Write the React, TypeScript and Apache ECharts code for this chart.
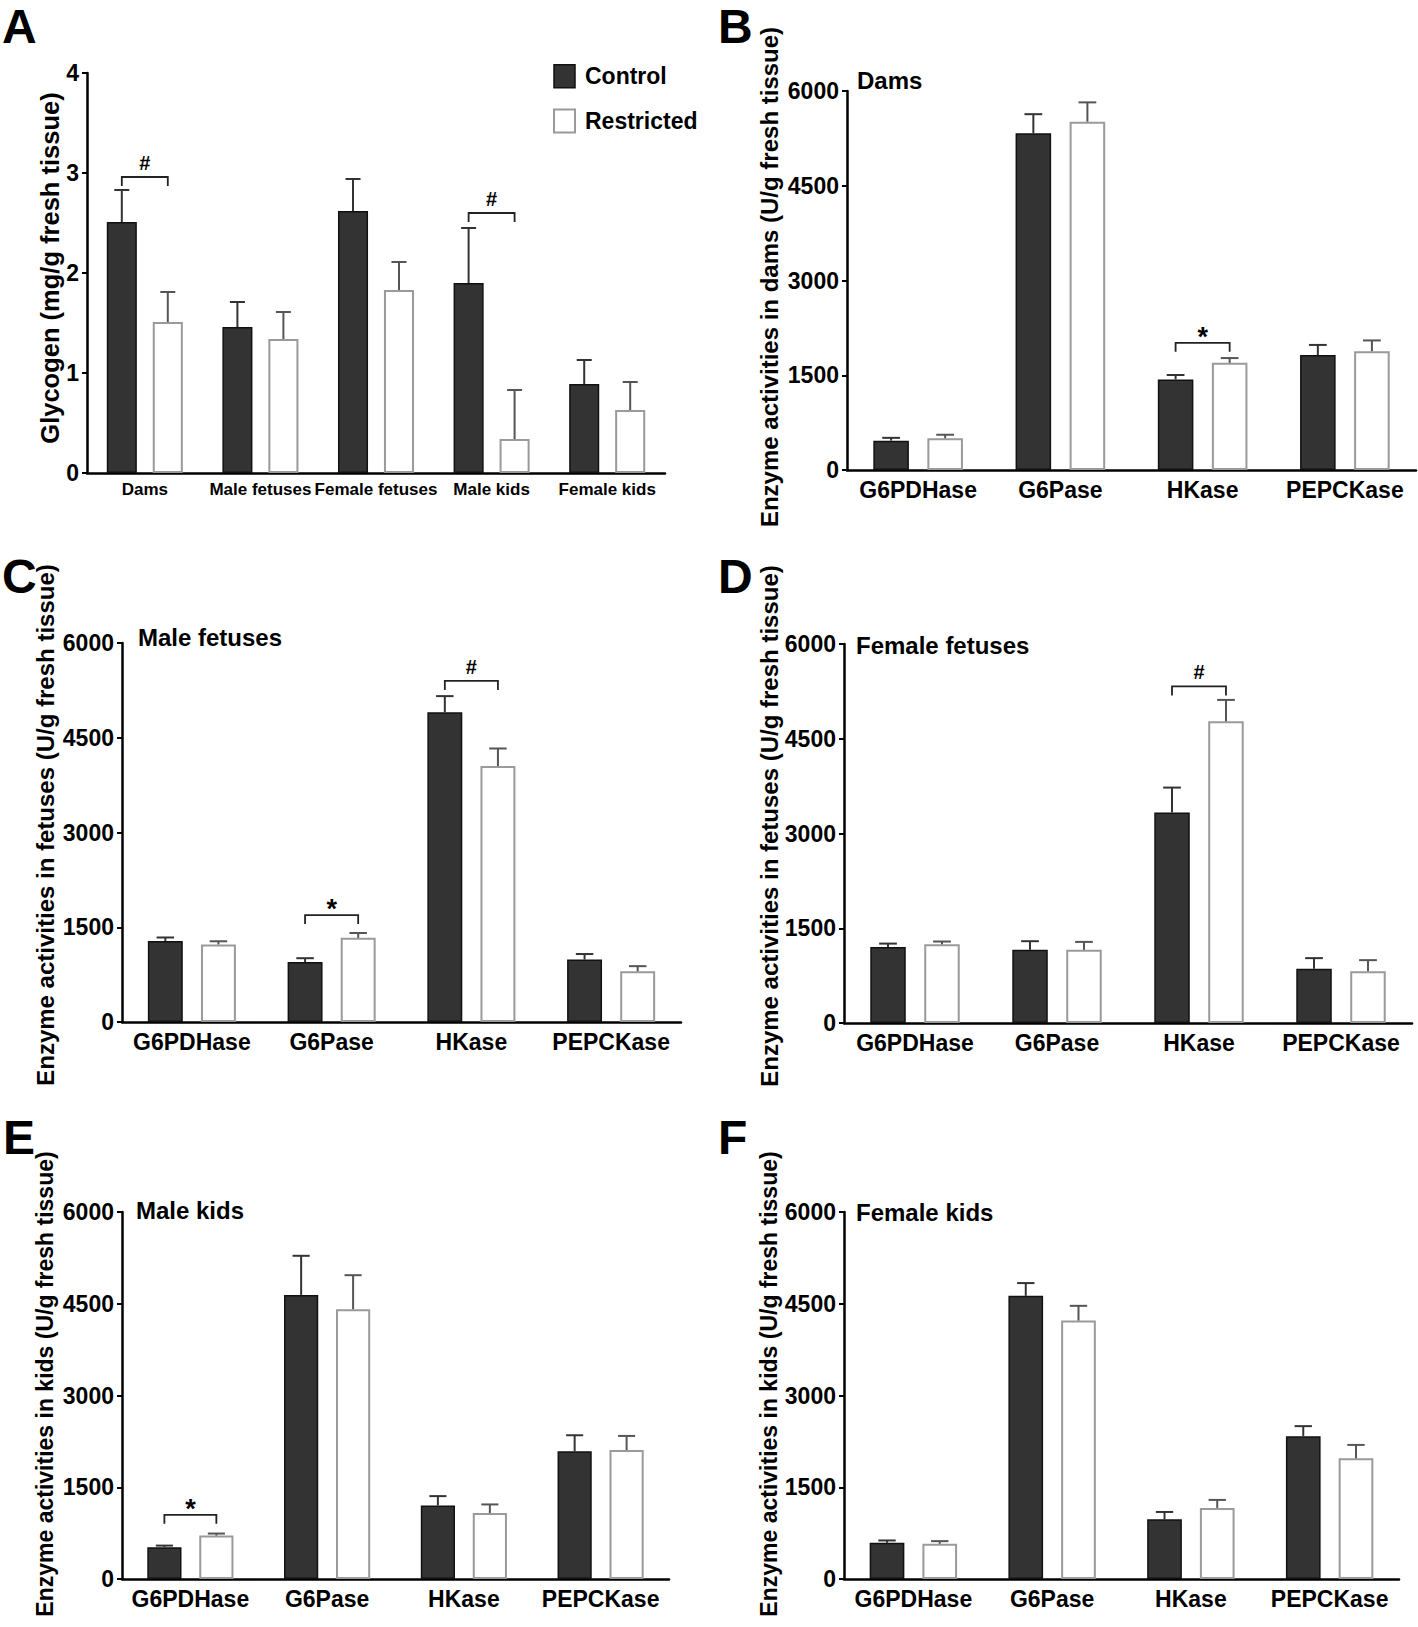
import React, { useEffect, useRef } from "react";
import * as echarts from "echarts";

const FONT = '"Liberation Sans", Arial, Helvetica, sans-serif';

// ---------- data ----------
const glycogenCategories = ["Dams", "Male fetuses", "Female fetuses", "Male kids", "Female kids"];
const glycogenControl = [2.51, 1.46, 2.62, 1.9, 0.89];
const glycogenControlSem = [0.32, 0.25, 0.32, 0.55, 0.24];
const glycogenRestricted = [1.51, 1.34, 1.83, 0.34, 0.63];
const glycogenRestrictedSem = [0.3, 0.27, 0.28, 0.49, 0.28];
const glycogenTicks = [0, 1, 2, 3, 4];

const enzymeCategories = ["G6PDHase", "G6Pase", "HKase", "PEPCKase"];
const enzymeTicks = [0, 1500, 3000, 4500, 6000];

const damsControl = [465, 5333, 1433, 1821];
const damsControlSem = [44, 300, 71, 159];
const damsRestricted = [503, 5513, 1696, 1881];
const damsRestrictedSem = [55, 307, 76, 170];

const maleFetusControl = [1283, 950, 4903, 988];
const maleFetusControlSem = [55, 60, 256, 88];
const maleFetusRestricted = [1228, 1332, 4051, 803];
const maleFetusRestrictedSem = [50, 77, 279, 81];

const femaleFetusControl = [1202, 1158, 3333, 858];
const femaleFetusControlSem = [55, 137, 394, 169];
const femaleFetusRestricted = [1246, 1158, 4776, 820];
const femaleFetusRestrictedSem = [44, 126, 339, 175];

const maleKidControl = [519, 4645, 1202, 2087];
const maleKidControlSem = [27, 639, 153, 263];
const maleKidRestricted = [710, 4410, 1077, 2109];
const maleKidRestrictedSem = [33, 557, 142, 230];

const femaleKidControl = [592, 4630, 975, 2334];
const femaleKidControlSem = [38, 208, 121, 165];
const femaleKidRestricted = [575, 4225, 1162, 1973];
const femaleKidRestrictedSem = [44, 241, 131, 219];

// significance brackets: category index, bracket height (data units), symbol
const glycogenSigCat = [0, 3];
const glycogenSigY = [2.96, 2.6];
const glycogenSigSym = ["#", "#"];
const damsSigCat = [2];
const damsSigY = [2013];
const damsSigSym = ["*"];
const maleFetusSigCat = [1, 2];
const maleFetusSigY = [1692, 5400];
const maleFetusSigSym = ["*", "#"];
const femaleFetusSigCat = [2];
const femaleFetusSigY = [5328];
const femaleFetusSigSym = ["#"];
const maleKidSigCat = [0];
const maleKidSigY = [1049];
const maleKidSigSym = ["*"];
const femaleKidSigCat: number[] = [];
const femaleKidSigY: number[] = [];
const femaleKidSigSym: string[] = [];

const panelLetters = ["A", "B", "C", "D", "E", "F"];
const panelSubtitles = ["", "Dams", "Male fetuses", "Female fetuses", "Male kids", "Female kids"];
const yTitles = [
  "Glycogen (mg/g fresh tissue)",
  "Enzyme activities in dams (U/g fresh tissue)",
  "Enzyme activities in fetuses (U/g fresh tissue)",
  "Enzyme activities in fetuses (U/g fresh tissue)",
  "Enzyme activities in kids (U/g fresh tissue)",
  "Enzyme activities in kids (U/g fresh tissue)",
];

// ---------- layout ----------
const panels = [
  {
    grid: { left: 87, top: 73, width: 578, height: 400 },
    cats: glycogenCategories, ticks: glycogenTicks,
    c: glycogenControl, cs: glycogenControlSem, r: glycogenRestricted, rs: glycogenRestrictedSem,
    sc: glycogenSigCat, sy: glycogenSigY, ss: glycogenSigSym,
    barW: 0.26, gap: 0.53, catFont: 17,
    letter: [2, 26], sub: [0, 0], ytitle: [50, 268], ytFont: 25.5,
  },
  {
    grid: { left: 847, top: 91, width: 569, height: 379 },
    cats: enzymeCategories, ticks: enzymeTicks,
    c: damsControl, cs: damsControlSem, r: damsRestricted, rs: damsRestrictedSem,
    sc: damsSigCat, sy: damsSigY, ss: damsSigSym,
    barW: 0.25, gap: 0.52, catFont: 23,
    letter: [718, 26], sub: [857, 80], ytitle: [769, 277], ytFont: 24,
  },
  {
    grid: { left: 122, top: 643, width: 559, height: 379 },
    cats: enzymeCategories, ticks: enzymeTicks,
    c: maleFetusControl, cs: maleFetusControlSem, r: maleFetusRestricted, rs: maleFetusRestrictedSem,
    sc: maleFetusSigCat, sy: maleFetusSigY, ss: maleFetusSigSym,
    barW: 0.25, gap: 0.52, catFont: 23,
    letter: [2, 576], sub: [138, 637], ytitle: [45, 825], ytFont: 24,
  },
  {
    grid: { left: 844, top: 644, width: 568, height: 379 },
    cats: enzymeCategories, ticks: enzymeTicks,
    c: femaleFetusControl, cs: femaleFetusControlSem, r: femaleFetusRestricted, rs: femaleFetusRestrictedSem,
    sc: femaleFetusSigCat, sy: femaleFetusSigY, ss: femaleFetusSigSym,
    barW: 0.25, gap: 0.52, catFont: 23,
    letter: [718, 576], sub: [856, 645], ytitle: [769, 826], ytFont: 24,
  },
  {
    grid: { left: 122, top: 1212, width: 547, height: 367 },
    cats: enzymeCategories, ticks: enzymeTicks,
    c: maleKidControl, cs: maleKidControlSem, r: maleKidRestricted, rs: maleKidRestrictedSem,
    sc: maleKidSigCat, sy: maleKidSigY, ss: maleKidSigSym,
    barW: 0.25, gap: 0.52, catFont: 23,
    letter: [3, 1137], sub: [136, 1210], ytitle: [45, 1384], ytFont: 23,
  },
  {
    grid: { left: 844, top: 1212, width: 555, height: 367 },
    cats: enzymeCategories, ticks: enzymeTicks,
    c: femaleKidControl, cs: femaleKidControlSem, r: femaleKidRestricted, rs: femaleKidRestrictedSem,
    sc: femaleKidSigCat, sy: femaleKidSigY, ss: femaleKidSigSym,
    barW: 0.25, gap: 0.52, catFont: 23,
    letter: [718, 1137], sub: [856, 1212], ytitle: [769, 1384], ytFont: 23,
  },
];

const CONTROL_FILL = "#333333";
const CONTROL_BORDER = "#111111";
const RESTRICTED_FILL = "#ffffff";
const RESTRICTED_BORDER = "#9a9a9a";

function buildOption() {
  const grid: any[] = [];
  const xAxis: any[] = [];
  const yAxis: any[] = [];
  const series: any[] = [];
  const graphic: any[] = [];

  panels.forEach((p, i) => {
    grid.push({ ...p.grid, containLabel: false });
    xAxis.push({
      type: "category",
      gridIndex: i,
      data: p.cats,
      axisLine: { lineStyle: { color: "#000", width: 2.5 } },
      axisTick: { alignWithLabel: true, length: 5, lineStyle: { color: "#000", width: 2 } },
      axisLabel: {
        interval: 0,
        margin: 8,
        color: "#000",
        fontSize: p.catFont,
        fontWeight: "bold",
        fontFamily: FONT,
      },
    });
    const tmax = p.ticks[p.ticks.length - 1];
    yAxis.push({
      type: "value",
      gridIndex: i,
      min: p.ticks[0],
      max: tmax,
      interval: p.ticks[1] - p.ticks[0],
      splitLine: { show: false },
      axisLine: { show: true, lineStyle: { color: "#000", width: 2.5 } },
      axisTick: { show: true, length: 5, lineStyle: { color: "#000", width: 2 } },
      axisLabel: {
        margin: 8,
        color: "#000",
        fontSize: 23,
        fontWeight: "bold",
        fontFamily: FONT,
        formatter: (v: number) => String(v),
      },
    });

    const off = (p.barW + p.barW * p.gap) / 2;

    series.push({
      name: "Control",
      type: "bar",
      xAxisIndex: i,
      yAxisIndex: i,
      data: p.c,
      barWidth: `${p.barW * 100}%`,
      barGap: `${p.gap * 100}%`,
      itemStyle: { color: CONTROL_FILL, borderColor: CONTROL_BORDER, borderWidth: 1.5 },
      emphasis: { disabled: true },
    });
    series.push({
      name: "Restricted",
      type: "bar",
      xAxisIndex: i,
      yAxisIndex: i,
      data: p.r,
      barWidth: `${p.barW * 100}%`,
      barGap: `${p.gap * 100}%`,
      itemStyle: { color: RESTRICTED_FILL, borderColor: RESTRICTED_BORDER, borderWidth: 2 },
      emphasis: { disabled: true },
    });

    const errData: number[][] = [];
    p.c.forEach((v, k) => errData.push([k, v, v + p.cs[k], -1]));
    p.r.forEach((v, k) => errData.push([k, v, v + p.rs[k], 1]));
    series.push({
      type: "custom",
      xAxisIndex: i,
      yAxisIndex: i,
      data: errData,
      silent: true,
      z: 3,
      renderItem: (params: any, api: any) => {
        const cat = api.value(0);
        const side = api.value(3);
        const band = api.size([1, 0])[0];
        const base = api.coord([cat, api.value(1)]);
        const top = api.coord([cat, api.value(2)]);
        const cx = base[0] + side * off * band;
        const capHalf = band * p.barW * 0.25;
        const color = side < 0 ? "#333" : "#555";
        return {
          type: "group",
          children: [
            { type: "line", shape: { x1: cx, y1: base[1], x2: cx, y2: top[1] }, style: { stroke: color, lineWidth: 2 } },
            { type: "line", shape: { x1: cx - capHalf, y1: top[1], x2: cx + capHalf, y2: top[1] }, style: { stroke: color, lineWidth: 2 } },
          ],
        };
      },
    });

    if (p.sc.length) {
      const sigData = p.sc.map((c, k) => [c, p.sy[k]]);
      series.push({
        type: "custom",
        xAxisIndex: i,
        yAxisIndex: i,
        data: sigData,
        silent: true,
        z: 4,
        renderItem: (params: any, api: any) => {
          const cat = api.value(0);
          const band = api.size([1, 0])[0];
          const pt = api.coord([cat, api.value(1)]);
          const x1 = pt[0] - off * band;
          const x2 = pt[0] + off * band;
          const y = pt[1];
          const sym = p.ss[params.dataIndex];
          const isStar = sym === "*";
          return {
            type: "group",
            children: [
              {
                type: "polyline",
                shape: { points: [[x1, y + 9], [x1, y], [x2, y], [x2, y + 9]] },
                style: { stroke: "#222", lineWidth: 1.8, fill: "none" },
              },
              {
                type: "text",
                x: pt[0],
                y: isStar ? y - 6 : y - 14,
                style: {
                  text: sym,
                  align: "center",
                  verticalAlign: "middle",
                  fontSize: isStar ? 27 : 20,
                  fontWeight: "bold",
                  fontFamily: FONT,
                  fill: "#000",
                },
              },
            ],
          };
        },
      });
    }

    graphic.push({
      type: "text",
      x: p.letter[0],
      y: p.letter[1],
      style: {
        text: panelLetters[i],
        align: "left",
        verticalAlign: "middle",
        fontSize: 48,
        fontWeight: "bold",
        fontFamily: FONT,
        fill: "#000",
      },
    });
    if (panelSubtitles[i]) {
      graphic.push({
        type: "text",
        x: p.sub[0],
        y: p.sub[1],
        style: {
          text: panelSubtitles[i],
          align: "left",
          verticalAlign: "middle",
          fontSize: 24,
          fontWeight: "bold",
          fontFamily: FONT,
          fill: "#000",
        },
      });
    }
    graphic.push({
      type: "text",
      x: p.ytitle[0],
      y: p.ytitle[1],
      rotation: Math.PI / 2,
      style: {
        text: yTitles[i],
        align: "center",
        verticalAlign: "middle",
        fontSize: p.ytFont,
        fontWeight: "bold",
        fontFamily: FONT,
        fill: "#000",
      },
    });
  });

  return {
    animation: false,
    backgroundColor: "#ffffff",
    grid,
    xAxis,
    yAxis,
    series,
    graphic,
    legend: {
      orient: "vertical",
      left: 548,
      top: 59,
      itemWidth: 21,
      itemHeight: 23,
      itemGap: 20,
      icon: "rect",
      selectedMode: false,
      textStyle: {
        fontSize: 23,
        fontWeight: "bold",
        fontFamily: FONT,
        color: "#000",
        padding: [0, 0, 0, 5],
      },
      data: [
        { name: "Control", itemStyle: { color: CONTROL_FILL, borderColor: CONTROL_BORDER, borderWidth: 1.5 } },
        { name: "Restricted", itemStyle: { color: RESTRICTED_FILL, borderColor: RESTRICTED_BORDER, borderWidth: 2 } },
      ],
    },
  };
}

export default function App() {
  const ref = useRef<HTMLDivElement>(null);
  useEffect(() => {
    if (!ref.current) return;
    const chart = echarts.init(ref.current, undefined, { renderer: "svg" });
    chart.setOption(buildOption() as any);
    return () => chart.dispose();
  }, []);
  return (
    <div
      ref={ref}
      style={{ position: "absolute", left: 0, top: 0, width: 1418, height: 1627, background: "#fff" }}
    />
  );
}
